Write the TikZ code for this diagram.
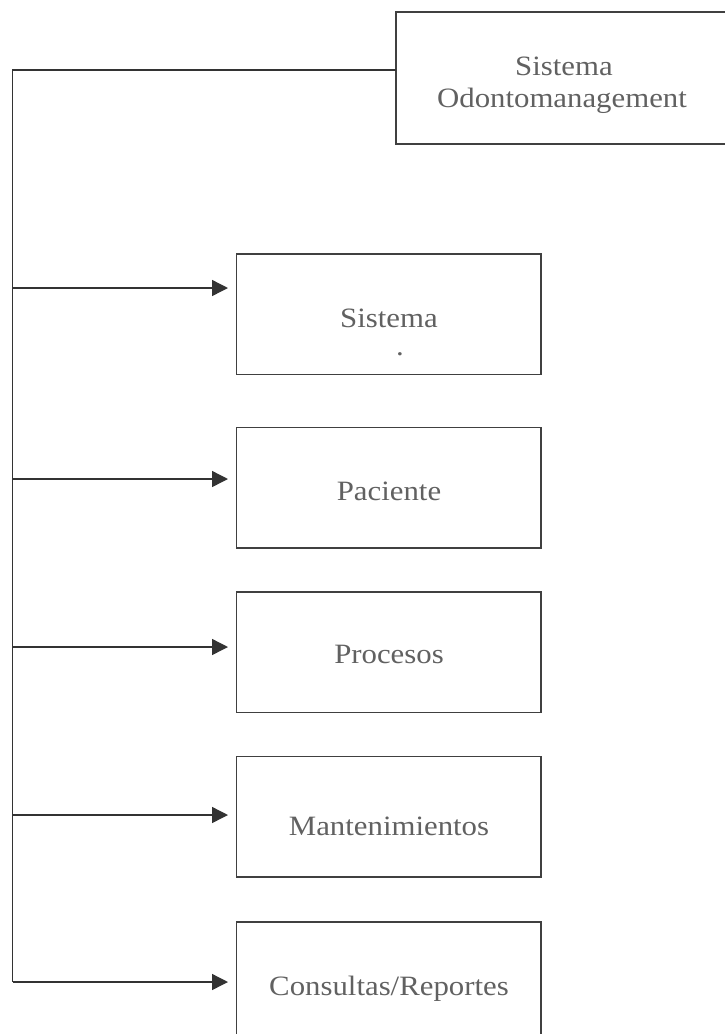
\documentclass[tikz,border=0pt]{standalone}
\usepackage{fontspec}
\setmainfont[FakeStretch=1.1]{Liberation Serif}
\usetikzlibrary{arrows.meta}
\begin{document}
\begin{tikzpicture}[x=1pt,y=1pt,
  box/.style={draw=black!75, line width=1.5pt, minimum width=304.5pt, minimum height=120.5pt, inner sep=0pt, outer sep=0pt},
  topbox/.style={draw=black!75, line width=1.5pt, minimum width=335pt, minimum height=132pt, inner sep=0pt, outer sep=0pt},
  lbl/.style={anchor=base, inner sep=0pt, text=black!62, font=\fontsize{28}{32}\selectfont},
  conn/.style={draw=black!80, line width=1.4pt},
  arr/.style={conn, -{Triangle[length=16pt,width=16pt]}, shorten >=8.5pt}]
\useasboundingbox (0,0) rectangle (725,-1034);
\fill[white] (0,0) rectangle (725,-1034);
% boxes
\node[topbox] (top) at (563.5,-78) {};
\node[box] (b1) at (388.75,-314) {};
\node[box] (b2) at (388.75,-487.5) {};
\node[box] (b3) at (388.75,-652) {};
\node[box] (b4) at (388.75,-816.5) {};
\node[box] (b5) at (388.75,-982) {};
% labels
\node[lbl] (t0a) at (564,-75) {Sistema};
\node[lbl] (t0b) at (562,-107) {Odontomanagement};
\node[lbl] (t1) at (389,-327) {Sistema};
\node[lbl] (t1d) at (400,-355) {.};
\node[lbl] (t2) at (389,-500) {Paciente};
\node[lbl] (t3) at (389,-663) {Procesos};
\node[lbl] (t4) at (389,-835) {Mantenimientos};
\node[lbl] (t5) at (389,-995) {Consultas/Reportes};
% spine
\coordinate (c0) at (12.5,-70);
\coordinate (s1) at (12.5,-288);
\coordinate (s2) at (12.5,-479);
\coordinate (s3) at (12.5,-647);
\coordinate (s4) at (12.5,-815);
\coordinate (s5) at (12.5,-982);
\draw[conn, line join=miter] (c0 -| top.west) -- (c0) -- (s5);
\draw[arr] (s1) -- (s1 -| b1.west);
\draw[arr] (s2) -- (s2 -| b2.west);
\draw[arr] (s3) -- (s3 -| b3.west);
\draw[arr] (s4) -- (s4 -| b4.west);
\draw[arr] (s5) -- (s5 -| b5.west);
\end{tikzpicture}
\end{document}
